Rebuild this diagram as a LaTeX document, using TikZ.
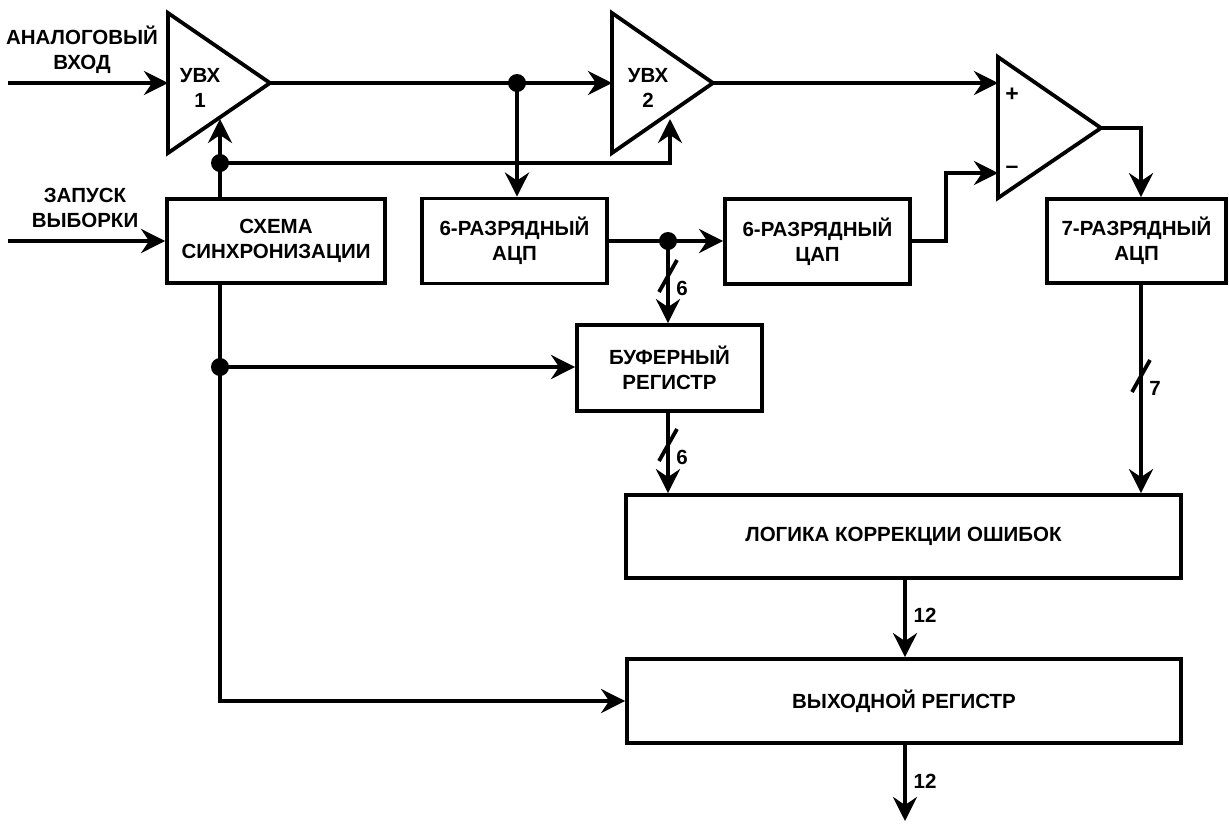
\documentclass[tikz,border=0pt]{standalone}
\usepackage{fontspec}
\setmainfont{Liberation Sans}
\usetikzlibrary{arrows.meta,calc}
\begin{document}
\begin{tikzpicture}[x=1pt,y=-1pt,line width=3.8pt,
  txt/.style={font=\bfseries\fontsize{20.5}{25}\selectfont, align=center, inner sep=0pt},
  box/.style={txt, draw, rectangle, line width=3.8pt},
  arr/.style={-{Stealth[length=24pt,width=24pt,inset=8pt]}},
  dot/.style={circle, fill, inner sep=0pt, minimum size=18pt},
  slash/.style={line width=3.8pt}]
\useasboundingbox (0,0) rectangle (1229,823);
% amplifiers
\draw[line join=miter] (168,13) -- (270,83) -- (168,153) -- cycle;
\draw[line join=miter] (612,13) -- (713,83) -- (612,153) -- cycle;
\draw[line join=miter] (998,57) -- (1101,128) -- (998,198) -- cycle;
\node[txt] (u1t) at (200,88) {УВХ\\1};
\node[txt] (u2t) at (648,88) {УВХ\\2};
\node[txt, font=\bfseries\fontsize{23}{25}\selectfont] (plus) at (1012,95) {+};
\node[txt, font=\bfseries\fontsize{23}{25}\selectfont] (minus) at (1012,170) {–};
\coordinate (u1in) at (168,83);
\coordinate (u1out) at (270,83);
\coordinate (u1ctl) at (220,119);
\coordinate (u2in) at (612,83);
\coordinate (u2out) at (713,83);
\coordinate (u2ctl) at (670,119);
\coordinate (cplus) at (998,83);
\coordinate (cminus) at (998,173);
\coordinate (cout) at (1101,128);
% boxes
\node[box, minimum width=218pt, minimum height=84pt] (sync) at (276,241) {СХЕМА\\СИНХРОНИЗАЦИИ};
\node[box, minimum width=185pt, minimum height=85pt] (adc6) at (514.5,241) {6-РАЗРЯДНЫЙ\\АЦП};
\node[box, minimum width=185pt, minimum height=85pt] (dac) at (817.5,241.5) {6-РАЗРЯДНЫЙ\\ЦАП};
\node[box, minimum width=179pt, minimum height=84pt] (adc7) at (1136.5,241) {7-РАЗРЯДНЫЙ\\АЦП};
\node[box, minimum width=185pt, minimum height=86pt] (buf) at (669.5,368) {БУФЕРНЫЙ\\РЕГИСТР};
\node[box, minimum width=555pt, minimum height=83pt] (logic) at (903.5,536.5) {ЛОГИКА КОРРЕКЦИИ ОШИБОК};
\node[box, minimum width=554pt, minimum height=84pt] (outreg) at (904,701) {ВЫХОДНОЙ РЕГИСТР};
% outer labels
\node[txt] (ainl) at (82,50) {АНАЛОГОВЫЙ\\ВХОД};
\node[txt] (sinl) at (85,208) {ЗАПУСК\\ВЫБОРКИ};
\coordinate (ain) at (8,83);
\coordinate (sin) at (8,241);
% dots
\node[dot] (d1) at (220,163) {};
\node[dot] (d2) at (517,83) {};
\node[dot] (d3) at (668,241) {};
\node[dot] (d4) at (220,367) {};
\coordinate (sx) at (220,0);
\coordinate (k2) at (670,163);
\coordinate (k3) at (946,241);
\coordinate (k3b) at (946,173);
\coordinate (k4) at (1141,128);
\coordinate (c7) at (1141,0);
\coordinate (c12) at (905,0);
\coordinate (c5) at (220,701);
\coordinate (oend) at (905,821);
% connectors
\draw[arr] (ain) -- (u1in);
\draw[arr] (sin) -- (sync.west);
\draw[arr] (sync.north -| sx) -- (u1ctl);
\draw[arr] (d1.center) -- (k2) -- (u2ctl);
\draw[arr] (u1out) -- (u2in);
\draw[arr] (d2.center) -- (d2.center |- adc6.north);
\draw[arr] (adc6.east) -- (dac.west |- adc6.east);
\draw[arr] (d3.center) -- (d3.center |- buf.north);
\draw[arr] (buf.south -| d3.center) -- (logic.north -| d3.center);
\draw[arr] (sync.south -| sx) -- (c5) -- (outreg.west);
\draw[arr] (d4.center) -- (d4.center -| buf.west);
\draw[arr] (dac.east |- k3) -- (k3) -- (k3b) -- (cminus);
\draw[arr] (u2out) -- (cplus);
\draw[arr] (cout) -- (k4) -- (adc7.north -| k4);
\draw[arr] (adc7.south -| c7) -- (logic.north -| c7);
\draw[arr] (logic.south -| c12) -- (outreg.north -| c12);
\draw[arr] (outreg.south -| c12) -- (oend);
% bus slashes and widths
\coordinate (s1) at (668,276);
\coordinate (s2) at (668,445);
\coordinate (s3) at (1141,376);
\draw[slash] ($(s1)+(-9,16)$) -- ($(s1)+(9,-16)$);
\draw[slash] ($(s2)+(-9,16)$) -- ($(s2)+(9,-16)$);
\draw[slash] ($(s3)+(-9,16)$) -- ($(s3)+(9,-16)$);
\node[txt] (w1) at (682,288) {6};
\node[txt] (w2) at (682,457) {6};
\node[txt] (w3) at (1155,388) {7};
\node[txt] (w4) at (925,615) {12};
\node[txt] (w5) at (925,781) {12};
\end{tikzpicture}
\end{document}
